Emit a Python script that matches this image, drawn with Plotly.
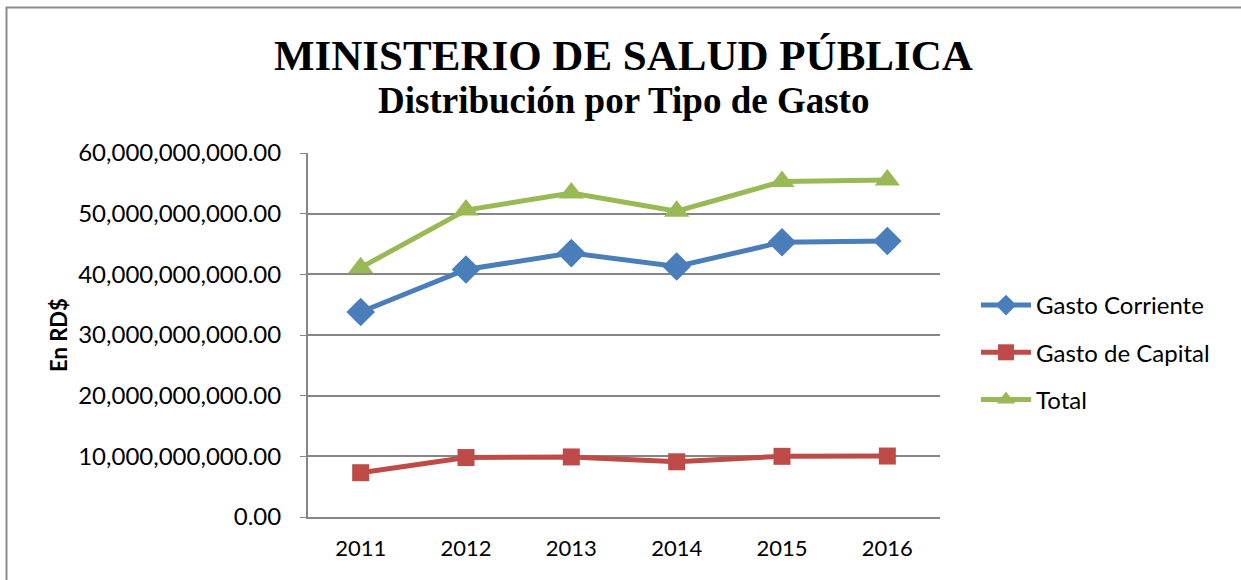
import plotly.graph_objects as go

years = ["2011", "2012", "2013", "2014", "2015", "2016"]
gasto_corriente = [33.8e9, 40.8e9, 43.5e9, 41.3e9, 45.3e9, 45.5e9]
gasto_capital = [7.3e9, 9.8e9, 9.9e9, 9.1e9, 10.0e9, 10.05e9]
total = [41.1e9, 50.6e9, 53.4e9, 50.4e9, 55.3e9, 55.55e9]
y_ticks = [0, 10e9, 20e9, 30e9, 40e9, 50e9, 60e9]
y_tick_labels = ["0.00", "10,000,000,000.00", "20,000,000,000.00", "30,000,000,000.00",
                 "40,000,000,000.00", "50,000,000,000.00", "60,000,000,000.00"]

W, H = 1241, 580
L, T = 308, 153
PR, PB = 940, 517
R, B = W - PR, H - PB
pw, ph = PR - L, PB - T

def px(x):
    return (x - L) / pw

def py(y):
    return (PB - y) / ph

fig = go.Figure()
fig.add_trace(go.Scatter(x=years, y=gasto_corriente, name="Gasto Corriente", mode="lines+markers",
                         legendgroup="a",
                         line=dict(color="#4A7EBB", width=5),
                         marker=dict(symbol="diamond", size=22, color="#4A7EBB")))
fig.add_trace(go.Scatter(x=years, y=gasto_capital, name="Gasto de Capital", mode="lines+markers",
                         legendgroup="b",
                         line=dict(color="#BE4B48", width=5),
                         marker=dict(symbol="square", size=17, color="#BE4B48")))
fig.add_trace(go.Scatter(x=years, y=total, name="Total", mode="lines+markers",
                         legendgroup="c",
                         line=dict(color="#98B954", width=5),
                         marker=dict(symbol="triangle-up", size=22, color="#98B954")))

fig.update_layout(
    width=W, height=H,
    margin=dict(l=L, r=R, t=T, b=B),
    paper_bgcolor="white", plot_bgcolor="white",
    font=dict(family="Lato, 'Open Sans', sans-serif", size=22, color="black"),
    showlegend=True,
    legend=dict(x=px(976), y=py(283), xanchor="left", yanchor="top",
                font=dict(size=24, family="Lato, sans-serif"),
                tracegroupgap=13, itemwidth=50, bgcolor="rgba(0,0,0,0)"),
    xaxis=dict(type="category", range=[-0.5, 5.5], showgrid=False,
               showline=True, linecolor="#868686", linewidth=2,
               ticks="", tickfont=dict(size=22), ticklabelstandoff=11),
    yaxis=dict(range=[0, 60e9], tickvals=y_ticks, ticktext=y_tick_labels,
               showgrid=True, gridcolor="#868686", gridwidth=1.5,
               showline=True, linecolor="#868686", linewidth=2,
               zeroline=False, ticks="outside", ticklen=6, tickcolor="#868686",
               tickfont=dict(size=24), ticklabelstandoff=14),
    annotations=[
        dict(text="<b>MINISTERIO DE SALUD PÚBLICA</b>", xref="paper", yref="paper",
             x=px(623), y=py(55), xanchor="center", yanchor="middle", showarrow=False,
             font=dict(family="Liberation Serif, serif", size=43, color="black")),
        dict(text="<b>Distribución por Tipo de Gasto</b>", xref="paper", yref="paper",
             x=px(623), y=py(100), xanchor="center", yanchor="middle", showarrow=False,
             font=dict(family="Liberation Serif, serif", size=37, color="black")),
        dict(text="<b>En RD$</b>", xref="paper", yref="paper",
             x=px(58), y=py(335), xanchor="center", yanchor="middle", showarrow=False,
             textangle=-90, font=dict(family="Lato, sans-serif", size=22, color="black")),
    ],
    shapes=[
        dict(type="rect", xref="paper", yref="paper",
             x0=px(6.5), x1=px(1300), y0=py(650), y1=py(7.5),
             line=dict(color="#8C8C8C", width=2), fillcolor="rgba(0,0,0,0)", layer="below"),
    ],
)
fig.write_html("out.html", config={"displayModeBar": False},
               post_script="document.body.style.margin='0';")
